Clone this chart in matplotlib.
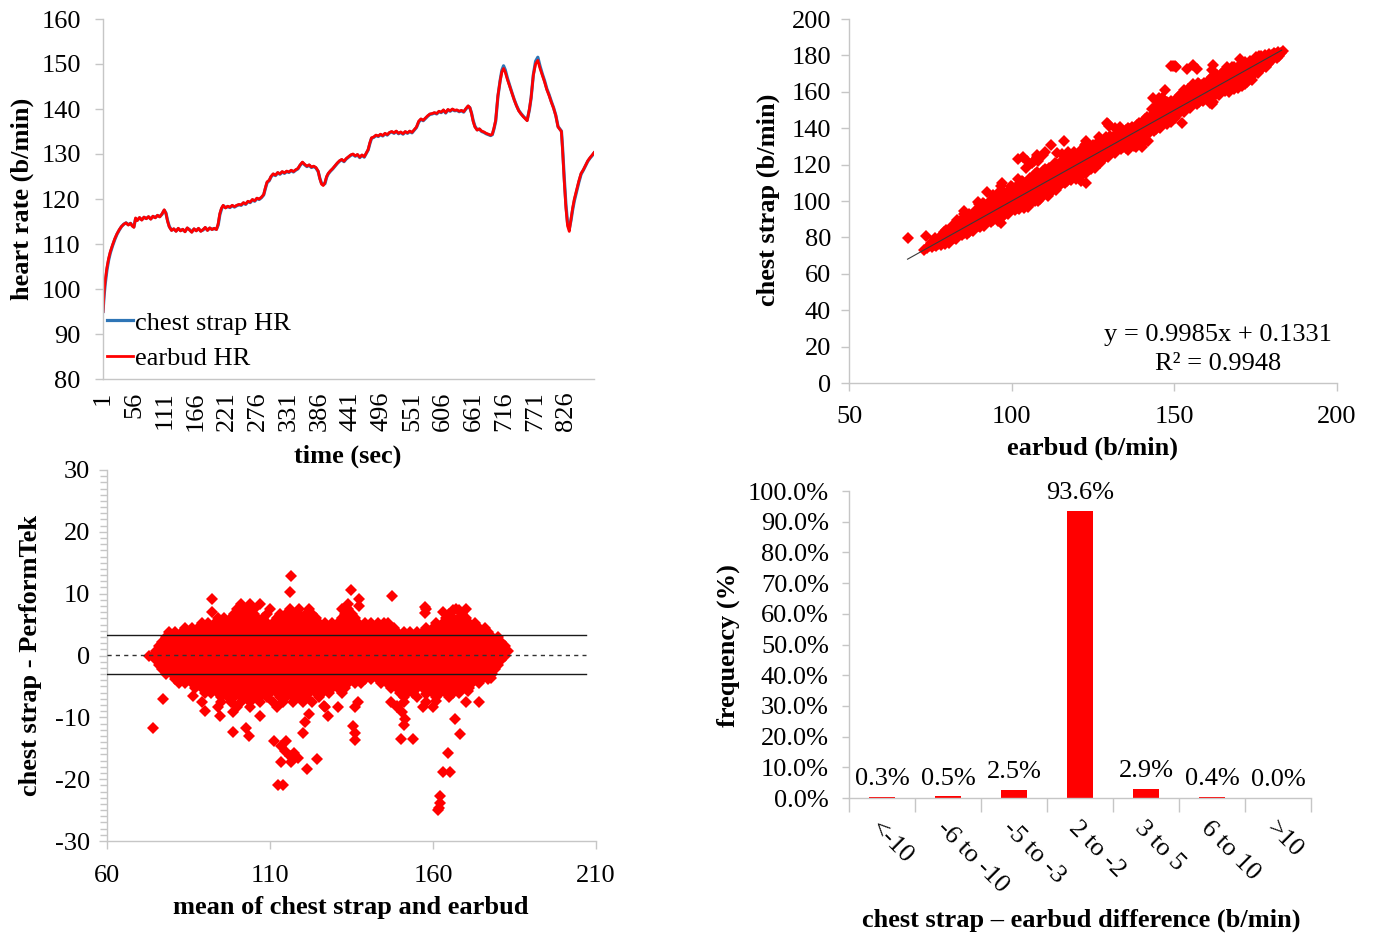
import matplotlib
matplotlib.use("Agg")
import matplotlib.pyplot as plt
from matplotlib.ticker import MultipleLocator, FixedLocator, FuncFormatter
import numpy as np

# ---------------- data: heart-rate time series ----------------
time_s = [1,3,5,8,11,14,18,22,26,30,34,38,42,46,50,53,56,59,62,66,70,74,78,82,86,90,94,98,102,106,
          110,113,116,119,123,127,131,135,139,143,147,151,155,159,163,167,171,175,179,183,187,191,195,199,203,
          206,209,212,215,219,223,227,231,235,239,243,247,251,255,259,263,267,271,275,279,283,287,290,293,297,
          300,304,308,312,316,320,324,328,332,336,340,344,348,352,356,360,364,368,372,376,380,384,387,390,393,
          396,399,402,406,410,414,418,422,426,430,434,438,442,446,450,454,458,462,466,470,473,476,479,483,487,
          491,495,499,503,507,511,515,519,523,527,531,535,539,543,547,551,555,559,563,567,571,575,579,583,587,
          591,595,599,603,607,611,615,619,623,627,631,635,639,643,647,651,654,657,660,663,667,671,675,679,683,
          687,691,694,697,700,704,708,711,714,717,721,725,729,733,737,741,745,749,753,756,760,763,767,771,775,
          779,783,787,791,795,799,803,807,811,814,817,819,822,825,828,831,834,837,840,844,848,852,856,860,864,
          868,872,875]
earbud_hr = [95.0,99.5,102.0,104.8,106.8,108.3,109.8,111.2,112.3,113.2,113.9,114.4,114.7,114.2,114.6,114.0,113.7,115.8,115.2,115.9,
             115.3,116.0,115.6,116.1,115.5,116.2,115.8,116.4,116.0,116.7,117.6,116.8,115.0,113.8,113.0,113.4,112.8,113.5,112.9,113.3,
             112.7,113.6,113.1,112.6,113.4,112.9,113.5,112.8,113.2,113.7,113.0,113.6,113.2,113.5,113.2,114.5,116.8,118.0,118.6,118.0,
             118.4,118.2,118.6,118.3,118.6,118.8,118.7,119.2,118.9,119.5,119.3,119.9,119.6,120.2,120.0,120.4,121.0,122.5,123.8,124.2,
             125.0,125.6,125.3,125.9,125.6,126.1,125.8,126.2,126.0,126.4,126.1,126.5,126.8,127.6,128.2,127.7,127.3,127.6,127.1,127.3,
             127.0,126.2,124.5,123.3,123.0,123.6,125.0,125.7,126.3,126.8,127.4,128.0,128.5,128.8,128.4,129.0,129.4,129.8,130.0,129.6,
             129.9,129.3,129.8,129.4,130.3,131.0,132.5,133.6,133.8,134.2,134.0,134.4,134.1,134.6,134.3,134.8,135.0,134.7,135.1,134.6,
             134.9,134.5,135.0,134.7,135.1,134.8,135.4,136.0,137.3,137.8,137.5,138.0,138.5,138.9,139.0,139.2,139.0,139.5,139.3,139.8,
             139.2,139.9,139.6,140.0,139.7,139.8,139.5,139.7,139.4,140.1,140.7,140.3,139.0,137.2,136.0,135.3,135.6,135.1,134.9,134.6,
             134.4,134.2,134.4,135.8,137.5,143.0,146.3,148.2,149.0,148.2,146.5,145.0,143.5,142.0,140.7,139.6,138.9,138.3,137.8,137.4,
             140.0,142.5,147.5,150.0,150.8,149.0,147.5,146.0,144.3,143.0,141.5,140.2,138.5,136.0,135.5,135.0,131.0,124.0,118.0,114.0,
             112.8,115.5,118.0,120.0,122.0,124.0,125.7,126.5,127.5,128.5,129.2,129.8,130.3]
chest_hr = [95.0,98.6,101.2,104.2,106.4,108.0,109.6,111.0,112.2,113.1,113.9,114.4,114.7,114.3,114.6,114.1,113.8,115.6,115.3,115.8,
            115.4,115.9,115.7,116.0,115.6,116.1,115.9,116.3,116.1,116.6,117.5,116.9,115.2,113.9,113.1,113.3,112.9,113.4,113.0,113.2,
            112.8,113.5,113.2,112.7,113.3,113.0,113.4,112.9,113.1,113.6,113.1,113.5,113.3,113.4,113.3,114.2,116.5,117.8,118.5,118.1,
            118.3,118.1,118.5,118.2,118.5,118.7,118.6,119.1,118.8,119.4,119.2,119.8,119.5,120.1,119.9,120.3,120.9,122.3,123.6,124.1,
            124.9,125.5,125.2,125.8,125.5,126.0,125.7,126.1,125.9,126.3,126.0,126.4,126.7,127.5,128.1,127.6,127.2,127.5,127.0,127.2,
            126.9,126.1,124.6,123.5,123.2,123.4,124.8,125.6,126.2,126.7,127.3,127.9,128.4,128.7,128.3,128.9,129.3,129.7,129.9,129.5,
            129.8,129.2,129.7,129.3,130.2,130.9,132.3,133.5,133.7,134.1,133.9,134.3,134.0,134.5,134.2,134.7,134.9,134.6,135.0,134.5,
            134.8,134.4,134.9,134.6,135.0,134.7,135.3,135.9,137.1,137.7,137.4,137.9,138.4,138.8,138.9,139.1,138.9,139.4,139.2,139.7,
            139.1,139.8,139.5,139.9,139.6,139.7,139.4,139.6,139.3,140.0,140.6,140.3,139.1,137.4,136.2,135.4,135.5,135.0,134.8,134.5,
            134.3,134.1,134.3,135.6,137.3,142.8,146.4,148.6,149.6,148.7,146.8,145.2,143.6,142.1,140.8,139.7,139.0,138.4,137.9,137.5,
            139.8,142.4,147.6,150.6,151.5,149.5,147.8,146.3,144.5,143.2,141.7,140.3,138.6,136.1,135.6,135.1,131.5,124.8,118.8,114.6,
            113.4,115.2,117.6,119.6,121.7,123.7,125.5,126.4,127.4,128.4,129.1,129.7,130.2]
time_ticks = [1, 56, 111, 166, 221, 276, 331, 386, 441, 496, 551, 606, 661, 716, 771, 826]

# ---------------- data: Bland-Altman points (mean, earbud - chest) ----------------
# dense band, listed row by row: each row is a difference level and the means observed on it
row_levels = [0.0, 0.75, -0.75, 1.5, -1.5, 2.25, -2.25, 3.0, -3.0, 3.75, -3.75, 4.5, -4.5,
              5.25, -5.25, 6.0, -6.0, 6.75, -6.75, 7.5, -7.5, 8.3, -8.3]
row_p000 = [73,74,76,78,80,82,84,86,88,90,92,94,96,98,100,102,104,106,108,110,112,114,116,118,120,122,124,126,128,130,
            132,134,136,138,140,142,144,146,148,150,152,154,156,158,160,162,164,166,168,170,172,174,176,178,180,182]
row_p075 = [75,77,79,81,83,85,87,89,91,93,95,97,99,101,103,105,107,109,111,113,115,117,119,121,123,125,127,129,131,133,
            135,137,139,141,143,145,147,149,151,153,155,157,159,161,163,165,167,169,171,173,175,177,179,181,183]
row_m075 = [75,77,79,81,83,85,87,89,91,93,95,97,99,101,103,105,107,109,111,113,115,117,119,121,123,125,127,129,131,133,
            135,137,139,141,143,145,147,149,151,153,155,157,159,161,163,165,167,169,171,173,175,177,179,181]
row_p150 = [76,78,80,82,84,86,88,90,92,94,96,98,100,102,104,106,108,110,112,114,116,118,120,122,124,126,128,130,132,134,
            136,138,140,142,144,146,148,150,152,154,156,158,160,162,164,166,168,170,172,174,176,178,180,182]
row_m150 = [76,78,80,82,84,86,88,90,92,94,96,98,100,102,104,106,108,110,112,114,116,118,120,122,124,126,128,130,132,134,
            136,138,140,142,144,146,148,150,152,154,156,158,160,162,164,166,168,170,172,174,176,178,180]
row_p225 = [77,79,81,83,85,87,89,91,93,95,97,99,101,103,105,107,109,111,113,115,117,119,121,123,125,127,129,131,133,135,
            137,139,141,143,145,147,149,151,153,155,157,159,161,163,165,167,169,171,173,175,177,179,181]
row_m225 = [77,79,81,83,85,87,89,91,93,95,97,99,101,103,105,107,109,111,113,115,117,119,121,123,125,127,129,131,133,135,
            137,139,141,143,145,147,149,151,153,155,157,159,161,163,165,167,169,171,173,175,177,179]
row_p300 = [78,80,82,84,86,88,90,92,94,96,98,100,102,104,106,108,110,112,114,116,118,120,122,124,126,128,130,132,134,136,
            138,140,142,144,146,148,150,152,154,156,158,160,162,164,166,168,170,172,174,176,178,180]
row_m300 = [78,80,82,84,86,88,90,92,94,96,98,100,102,104,106,108,110,112,114,116,118,120,122,124,126,128,130,132,134,136,
            138,140,142,144,146,148,150,152,154,156,158,160,162,164,166,168,170,172,174,176,178]
row_p375 = [79,81,83,85,87,89,91,93,95,97,99,101,103,105,107,109,111,113,115,117,119,121,123,125,127,129,131,133,135,137,
            139,141,143,145,147,149,151,153,155,157,159,161,163,165,167,169,171,173,175,177]
row_m375 = [81,83,85,87,89,91,93,95,97,99,101,103,105,107,109,111,113,115,117,119,121,123,125,127,129,131,133,135,137,
            139,141,143,145,147,149,151,153,155,157,159,161,163,165,167,169,171,173,175,177]
row_p450 = [84,86,88,90,92,94,96,98,100,102,104,106,108,110,112,114,116,118,120,122,124,126,128,130,132,134,136,138,140,
            142,144,146,148,158,160,162,164,166,168,170,172,174,176]
row_m450 = [82,84,86,88,90,92,94,96,98,100,102,104,106,108,110,112,114,116,118,120,122,124,126,128,130,132,134,136,138,
            144,146,148,150,152,154,156,158,160,162,164,166,168,170,172,174]
row_p525 = [89,91,93,95,97,99,101,103,105,107,109,111,113,115,117,119,121,123,125,127,129,131,133,135,137,139,141,143,145,
            161,163,165,167,169,171,173]
row_m525 = [87,89,91,93,95,97,99,101,103,105,107,109,111,113,115,117,119,121,123,125,127,129,131,133,
            147,149,151,153,155,157,159,161,163,165,167,169,171]
row_p600 = [94,96,98,100,102,104,106,108,112,114,116,118,120,122,124,132,134,136,164,166,168,170]
row_m600 = [90,92,94,96,98,100,102,104,106,108,110,112,114,116,118,120,122,124,126,128,132,150,152,154,160,162,164,168]
row_p675 = [99,101,103,105,109,113,115,117,119,121,123,133,135,165,169]
row_m675 = [95,97,99,101,103,105,107,109,113,115,117,119,121,125,151,155,161,165]
row_p750 = [100,102,103.5,105,110,116,119,122,132,134,158,167,170]
row_m750 = [89,95,98,101,104,107,111,114,117,120,123,137,147,151,158,170,174]
row_p830 = [101,104,107,134]
row_m830 = [94,100,104,112,127,131,136,149,157,160]
# isolated outliers
out_mean = [116.3,116.2,92.3,92.3,134.8,137.3,137.4,147.5,157.5,157.5,163.2,166.0,168.0,146.3,77.3,74.0,98.7,102.5,
            103.5,111.3,113.5,114.5,115.0,116.0,117.5,118.5,113.5,116.5,112.5,114.0,121.3,124.4,120.2,120.7,122.0,126.6,
            127.8,90.0,94.7,98.8,107.0,86.5,135.5,136.0,136.2,148.9,150.5,151.5,151.0,150.1,154.0,166.7,168.3,164.7,
            163.2,165.2,162.0,162.3,161.8,161.5,158.0,161.0,170.6,177.7,166.0]
out_diff = [12.8,10.3,9.1,7.1,10.6,9.1,8.0,9.7,7.9,6.9,7.0,7.3,7.3,5.3,-7.0,-11.7,-12.4,-11.7,
            -13.0,-13.9,-14.6,-15.5,-13.8,-16.3,-15.8,-16.6,-17.3,-17.3,-20.9,-20.9,-18.4,-16.8,-12.6,-10.7,-9.5,-8.2,
            -9.8,-9.0,-9.8,-9.2,-9.8,-6.6,-11.4,-12.5,-13.6,-8.2,-9.2,-10.3,-11.2,-13.5,-13.5,-10.3,-12.7,-15.7,
            -18.8,-18.8,-22.8,-23.9,-24.6,-25.0,-6.2,-7.4,-5.8,-3.6,-6.0]
ba_bias = 0.15
ba_loa = 3.2

# regression reported on the chart
reg_slope = 0.9985
reg_intercept = 0.1331
reg_r2 = 0.9948
reg_x_range = [68, 183]

# ---------------- data: difference histogram ----------------
diff_bins = ["<-10", "-6 to -10", "-5 to -3", "2 to -2", "3 to 5", "6 to 10", ">10"]
diff_freq = [0.3, 0.5, 2.5, 93.6, 2.9, 0.4, 0.04]

# ---------------- assemble BA table ----------------
rows = [row_p000, row_p075, row_m075, row_p150, row_m150, row_p225, row_m225, row_p300, row_m300,
        row_p375, row_m375, row_p450, row_m450, row_p525, row_m525, row_p600, row_m600, row_p675,
        row_m675, row_p750, row_m750, row_p830, row_m830]
ba_mean = []
ba_diff = []
for lvl, xs in zip(row_levels, rows):
    ba_mean += list(xs)
    ba_diff += [lvl] * len(xs)
ba_mean = np.array(ba_mean + out_mean, dtype=float)
ba_diff = np.array(ba_diff + out_diff, dtype=float)
earbud_pts = ba_mean + ba_diff / 2.0
chest_pts = ba_mean - ba_diff / 2.0

# ---------------- style ----------------
FONT = "Liberation Serif"
plt.rcParams["font.family"] = [FONT, "DejaVu Serif"]
plt.rcParams["axes.unicode_minus"] = False
FS = 19
GREY = "#c6c6c6"
RED = "#ff0000"
BLUE = "#2e75b6"
MS = 6.2

fig = plt.figure(figsize=(13.74, 9.38), dpi=100)
W, H = 1374.0, 938.0


def add_ax(l, r, t, b):
    return fig.add_axes([l / W, 1 - b / H, (r - l) / W, (b - t) / H])


def style(ax):
    for s in ("top", "right"):
        ax.spines[s].set_visible(False)
    for s in ("left", "bottom"):
        ax.spines[s].set_color(GREY)
        ax.spines[s].set_linewidth(1.0)
    ax.tick_params(colors=GREY, labelcolor="black", labelsize=FS, width=1.0)
    ax.set_facecolor("none")


# ---- panel 1: time series ----
ax1 = add_ax(103, 594, 19, 379)
style(ax1)
ax1.plot(time_s, chest_hr, color=BLUE, lw=2.3, label="chest strap HR", solid_joinstyle="round")
ax1.plot(time_s, earbud_hr, color=RED, lw=2.0, label="earbud HR", solid_joinstyle="round")
ax1.set_xlim(1, 875)
ax1.set_ylim(80, 160)
ax1.yaxis.set_major_locator(MultipleLocator(10))
ax1.set_xticks(time_ticks)
ax1.set_xticklabels([str(t) for t in time_ticks], rotation=90)
ax1.tick_params(axis="x", length=0, pad=9)
ax1.tick_params(axis="y", length=6, pad=10)
ax1.set_ylabel("heart rate (b/min)", fontsize=FS, fontweight="bold", va="center")
ax1.yaxis.set_label_coords(-0.165, 0.5)
ax1.set_xlabel("time (sec)", fontsize=FS, fontweight="bold", va="center")
ax1.xaxis.set_label_coords(0.499, -0.214)
leg = ax1.legend(loc="lower left", bbox_to_anchor=(0.008, 0.025), frameon=False, fontsize=FS,
                 handlelength=1.0, handletextpad=0.05, borderpad=0.0, borderaxespad=0.0,
                 labelspacing=0.45)

# ---- panel 2: scatter ----
ax2 = add_ax(849, 1337, 19, 383)
style(ax2)
ax2.plot(earbud_pts, chest_pts, linestyle="none", marker="D", markersize=MS,
         markerfacecolor=RED, markeredgewidth=0, color=RED)
rx = np.array(reg_x_range, dtype=float)
ax2.plot(rx, reg_slope * rx + reg_intercept, color="#3a3a3a", lw=0.8, zorder=3)
ax2.set_xlim(50, 200)
ax2.set_ylim(0, 200)
ax2.xaxis.set_major_locator(MultipleLocator(50))
ax2.yaxis.set_major_locator(MultipleLocator(20))
ax2.tick_params(axis="x", length=6, pad=10.5)
ax2.tick_params(axis="y", length=6, pad=7)
ax2.set_ylabel("chest strap (b/min)", fontsize=FS, fontweight="bold", va="center")
ax2.yaxis.set_label_coords(-0.166, 0.503)
ax2.set_xlabel("earbud (b/min)", fontsize=FS, fontweight="bold", va="center")
ax2.xaxis.set_label_coords(0.498, -0.179)
ax2.text(163.5, 18.3, f"y = {reg_slope:.4f}x + {reg_intercept:.4f}\nR\u00b2 = {reg_r2:.4f}",
         ha="center", va="center", multialignment="center", fontsize=FS, linespacing=1.4)

# ---- panel 3: Bland-Altman ----
ax3 = add_ax(107, 596, 470, 841)
style(ax3)
ax3.plot(ba_mean, ba_diff, linestyle="none", marker="D", markersize=MS,
         markerfacecolor=RED, markeredgewidth=0, color=RED)
ax3.plot([60, 207], [ba_bias + ba_loa] * 2, color="#1a1a1a", lw=1.0, zorder=3)
ax3.plot([60, 207], [ba_bias - ba_loa] * 2, color="#1a1a1a", lw=1.0, zorder=3)
ax3.plot([60, 207], [ba_bias] * 2, color="#333333", lw=1.0, ls=(0, (3, 3)), zorder=3)
ax3.set_xlim(60, 210)
ax3.set_ylim(-30, 30)
ax3.set_xticks([60, 110, 160, 210])
ax3.yaxis.set_major_locator(MultipleLocator(10))
ax3.yaxis.set_minor_locator(MultipleLocator(1))
ax3.tick_params(axis="x", length=6, pad=11)
ax3.tick_params(axis="y", which="major", length=6, pad=6)
ax3.tick_params(axis="y", which="minor", length=5, width=1.0, colors=GREY)
ax3.set_ylabel("chest strap - PerformTek", fontsize=FS, fontweight="bold", va="center")
ax3.yaxis.set_label_coords(-0.157, 0.501)
ax3.set_xlabel("mean of chest strap and earbud", fontsize=FS, fontweight="bold", va="center")
ax3.xaxis.set_label_coords(0.499, -0.178)

# ---- panel 4: histogram of differences ----
ax4 = add_ax(849, 1311, 491, 798)
style(ax4)
xpos = np.arange(len(diff_bins))
ax4.bar(xpos, diff_freq, width=0.4, color=RED, zorder=2)
for xp, v in zip(xpos, diff_freq):
    ax4.annotate(f"{v:.1f}%", (xp, v), xytext=(0, 5), textcoords="offset points",
                 ha="center", va="bottom", fontsize=FS)
ax4.set_xlim(-0.5, len(diff_bins) - 0.5)
ax4.set_ylim(0, 100)
ax4.yaxis.set_major_locator(MultipleLocator(10))
ax4.yaxis.set_major_formatter(FuncFormatter(lambda v, p: f"{v:.1f}%"))
ax4.xaxis.set_major_locator(FixedLocator(np.arange(len(diff_bins) + 1) - 0.5))
ax4.xaxis.set_major_formatter(FuncFormatter(lambda v, p: ""))
ax4.xaxis.set_minor_locator(FixedLocator(xpos))
ax4.set_xticklabels(diff_bins, minor=True)
ax4.tick_params(axis="x", which="major", length=10)
ax4.tick_params(axis="x", which="minor", length=0, pad=14, labelsize=FS)
for lab in ax4.get_xticklabels(minor=True):
    lab.set_rotation(-45)
    lab.set_ha("left")
    lab.set_va("top")
    lab.set_rotation_mode("anchor")
ax4.tick_params(axis="y", length=5, pad=9.5)
ax4.set_ylabel("frequency (%)", fontsize=FS, fontweight="bold", va="center")
ax4.yaxis.set_label_coords(-0.262, 0.498)
ax4.set_xlabel("chest strap \u2013 earbud difference (b/min)", fontsize=FS, fontweight="bold", va="center")
ax4.xaxis.set_label_coords(0.502, -0.397)

fig.savefig("out.png", dpi=100)
